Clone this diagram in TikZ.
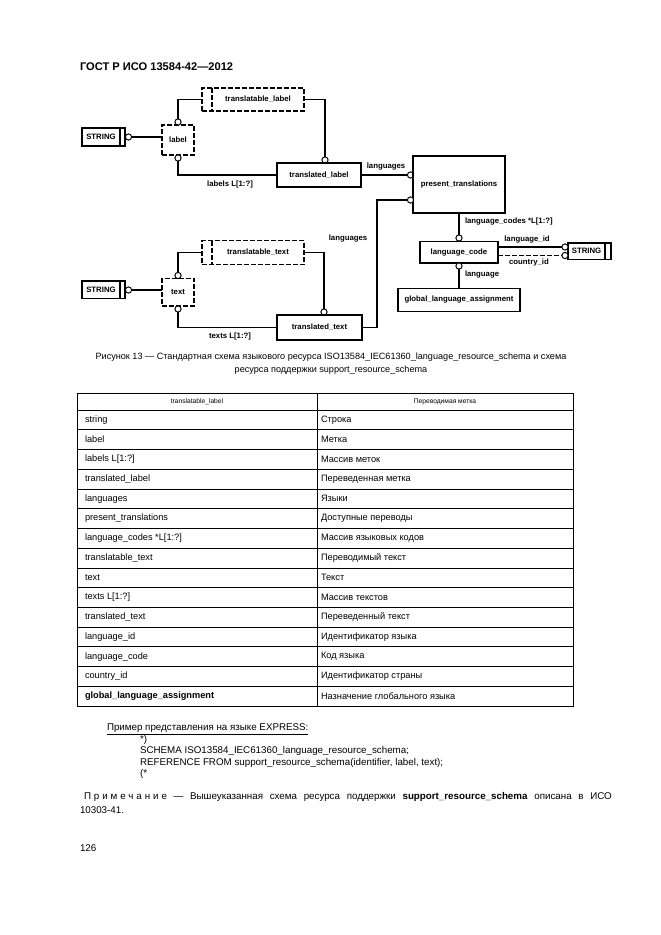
\documentclass[tikz,border=0pt]{standalone}
\usepackage{fontspec}
\setmainfont{Liberation Sans}
\newcommand\dfont{\fontsize{7}{8}\selectfont\bfseries}
\newcommand\tfont{\fontsize{8.3}{10}\selectfont}
\newcommand\bfont{\fontsize{8.8}{10}\selectfont}
\newcommand\bx[7]{\node[#1, minimum width={(#5-#3)*0.9pt}, minimum height={(#6-#4)*0.9pt}] (#2) at ({(#3+#5)/2},{(#4+#6)/2}) {#7};}
\begin{document}
\begin{tikzpicture}[x=0.9pt,y=-0.9pt,
  every node/.style={inner sep=0pt, outer sep=0pt},
  ent/.style={draw, line width=1.1pt, font=\dfont},
  dashline/.style={dash pattern=on 4.5pt off 1.8pt},
  dent/.style={ent, dashline},
  conn/.style={line width=1.1pt},
  circ/.style={circle, draw, fill=white, line width=0.9pt, minimum size=5.6pt},
  lbl/.style={font=\dfont},
  cell/.style={font=\tfont, anchor=west},
  tbl/.style={line width=0.6pt},
  txt/.style={font=\bfont, anchor=west},
]
\useasboundingbox[fill=white] (0,0) rectangle (661,935);

% header
\node[anchor=west, font=\fontsize{10}{12}\selectfont\bfseries] (hdr) at (80,67) {ГОСТ Р ИСО 13584-42—2012};

% ---- upper group
\bx{ent}{s1}{82}{128}{125}{146}{}
\draw[conn] (120,128) -- (120,146);
\node[lbl] (s1t) at (101,137) {STRING};
\node[circ] (c1) at (128.5,137) {};
\bx{dent}{lb}{162}{125}{194}{155}{label}
\node[circ] (lbt) at (178,122) {};
\node[circ] (lbb) at (178,158) {};
\bx{dent}{tl}{202}{88}{304}{111}{}
\draw[conn, dashline] (212,88) -- (212,111);
\node[lbl] (tlt) at (258,99.5) {translatable\_label};
\node[circ] (tlc) at (325,160) {};
\bx{ent}{trl}{277}{163}{361}{187}{translated\_label}
\node[circ] (p1) at (410.5,175) {};
\bx{ent}{pt}{413}{156}{505}{213}{present\_translations}
\node[circ] (p2) at (410.5,200) {};
\node[circ] (lcc) at (459,238) {};
\bx{ent}{lc}{420}{241.5}{498}{263}{language\_code}
\node[circ] (lcb) at (459,266) {};
\bx{ent}{gla}{398}{288.5}{520}{311.5}{global\_language\_assignment}
\bx{ent}{s2}{568}{243}{611}{259.5}{}
\draw[conn] (605,243) -- (605,259.5);
\node[lbl] (s2t) at (586.5,251.2) {STRING};
\node[circ] (s2a) at (565,247) {};
\node[circ] (s2b) at (565,255.5) {};

\draw[conn] (c1.east) -- (c1.east -| lb.west);
\draw[conn] (lbt.north) |- (tl.west);
\draw[conn] (tl.east) -| (tlc.north);
\draw[conn] (lbb.south) |- (trl.west);
\draw[conn] (trl.east) -- (p1.west);
\draw[conn] (pt.south) -- (lcc.north);
\draw[conn] (lcb.south) -- (gla.north);
\draw[conn] (lc.east |- s2a) -- (s2a.west);
\draw[conn, dashline] (lc.east |- s2b) -- (s2b.west);

% ---- lower group
\bx{ent}{s3}{82}{281}{125}{298.5}{}
\draw[conn] (120,281) -- (120,298.5);
\node[lbl] (s3t) at (101,290) {STRING};
\node[circ] (c3) at (128.5,290) {};
\bx{dent}{tx}{162}{278.5}{194}{306}{text}
\node[circ] (txt) at (178,275.5) {};
\node[circ] (txb) at (178,309) {};
\bx{dent}{tt}{202}{240.5}{304}{264.5}{}
\draw[conn, dashline] (212,240.5) -- (212,264.5);
\node[lbl] (ttt) at (258,252.5) {translatable\_text};
\node[circ] (ttc) at (324,312) {};
\bx{ent}{trt}{277}{315}{362}{340}{translated\_text}
\coordinate (j1) at (377,200);

\draw[conn] (c3.east) -- (c3.east -| tx.west);
\draw[conn] (txt.north) |- (tt.west);
\draw[conn] (tt.east) -| (ttc.north);
\draw[conn] (txb.south) |- (trt.west);
\draw[conn] (trt.east) -| (j1) -- (p2.west);

% connector labels
\node[lbl] (l1) at (386,167) {languages};
\node[lbl] (l2) at (230,184) {labels L[1:?]};
\node[lbl, anchor=west] (l3) at (465,222) {language\_codes *L[1:?]};
\node[lbl, anchor=west] (l4) at (465,275) {language};
\node[lbl] (l5) at (527,239.5) {language\_id};
\node[lbl] (l6) at (529,262.5) {country\_id};
\node[lbl] (l7) at (348,239) {languages};
\node[lbl] (l8) at (230,336) {texts L[1:?]};

% caption
\node[font=\fontsize{8.2}{10}\selectfont] (cap1) at (331,357) {Рисунок 13 — Стандартная схема языкового ресурса ISO13584\_IEC61360\_language\_resource\_schema и схема};
\node[font=\fontsize{8.2}{10}\selectfont] (cap2) at (331,370) {ресурса поддержки support\_resource\_schema};

% table
\draw[tbl] (77,393) rectangle (573,706);
\draw[tbl] (317,393) -- (317,706);
\foreach \i in {0,...,14} \draw[tbl] (77,{410+\i*19.73}) -- (573,{410+\i*19.73});
\node[font=\fontsize{6}{7}\selectfont] (h1) at (197,401.5) {translatable\_label};
\node[font=\fontsize{6}{7}\selectfont] (h2) at (445,401.5) {Переводимая метка};
\foreach \a/\b [count=\i from 0] in {string/Строка, label/Метка, labels L[1:?]/Массив меток, translated\_label/Переведенная метка, languages/Языки, present\_translations/Доступные переводы, language\_codes *L[1:?]/Массив языковых кодов, translatable\_text/Переводимый текст, text/Текст, texts L[1:?]/Массив текстов, translated\_text/Переведенный текст, language\_id/Идентификатор языка, language\_code/Код языка, country\_id/Идентификатор страны, \textbf{global\_language\_assignment}/Назначение глобального языка} {
  \node[cell] (ra\i) at (85,{410+(\i+0.5)*19.73}) {\a};
  \node[cell] (rb\i) at (321,{410+(\i+0.5)*19.73}) {\b};
}

% express
\node[txt] (ex0) at (107,729) {\underline{Пример представления на языке EXPRESS:}};
\node[txt] (ex1) at (140,740) {*)};
\node[txt] (ex2) at (140,751) {SCHEMA ISO13584\_IEC61360\_language\_resource\_schema;};
\node[txt] (ex3) at (140,763) {REFERENCE FROM support\_resource\_schema(identifier, label, text);};
\node[txt] (ex4) at (140,774) {(*};
\node[txt] (nt1) at (84,797) {\makebox[475pt][s]{{\addfontfeature{LetterSpace=30}Примечание} — Вышеуказанная схема ресурса поддержки \textbf{support\_resource\_schema} описана в ИСО}};
\node[txt] (nt2) at (80,810) {10303-41.};
\node[txt] (pg) at (80,848) {126};
\end{tikzpicture}
\end{document}
